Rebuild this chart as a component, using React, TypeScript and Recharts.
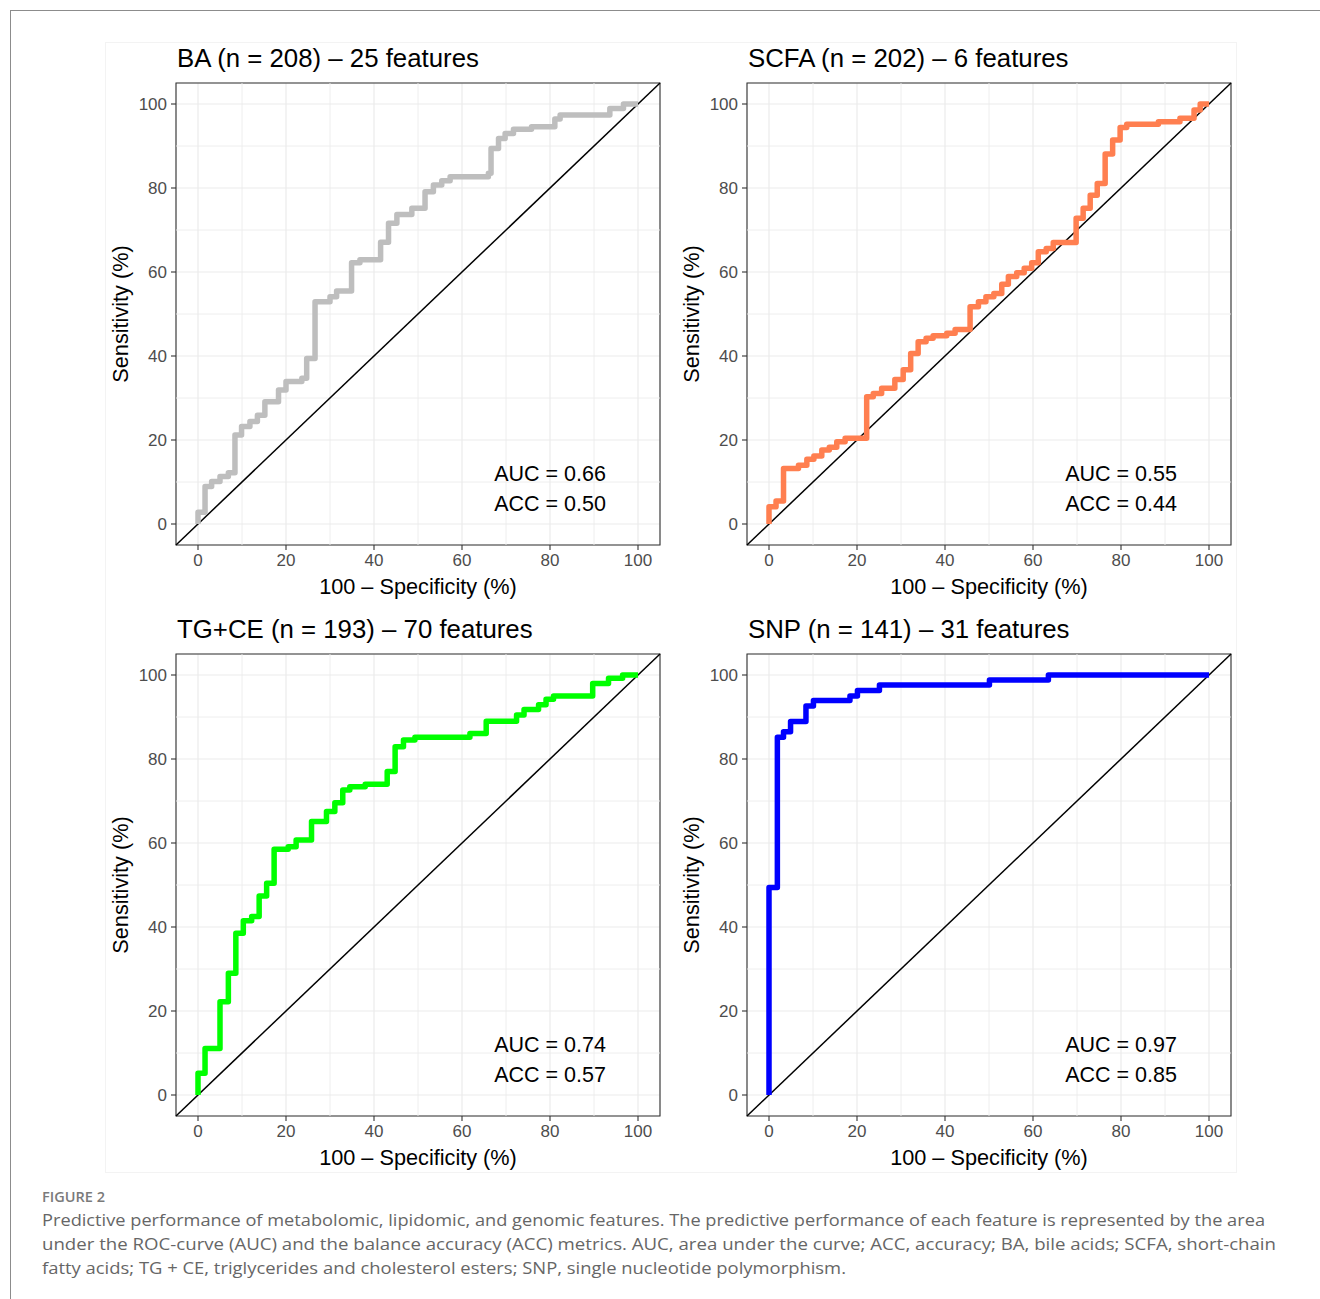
import React from 'react';
import {
  LineChart,
  Line,
  XAxis,
  YAxis,
  CartesianGrid,
  ReferenceLine,
  ReferenceArea,
  ReferenceDot,
} from 'recharts';

// ---------- data (x = 100 - specificity, y = sensitivity, in %) ----------
const majorTicks = [0, 20, 40, 60, 80, 100];
const minorTicks = [10, 30, 50, 70, 90];

const baFpr = [0, 0, 1.6, 3.1, 5, 6.9, 8.4, 9.9, 11.8, 13.5, 15.2, 18.3, 20, 23.6, 24.7, 26.6, 30, 31.5, 34.9, 36.8, 41.5, 43.3, 45.2, 48.6, 51.6, 53.5, 55.4, 57.3, 66, 66.6, 68.3, 69.8, 71.7, 75.8, 81.1, 82.3, 93.6, 96.7, 100];
const baTpr = [0, 2.8, 8.9, 10.1, 11.3, 12.2, 21.2, 23.2, 24.4, 25.9, 29.1, 31.9, 33.9, 34.7, 39.4, 52.9, 54.1, 55.5, 62.2, 62.9, 67.1, 71.6, 73.7, 75.2, 79.1, 80.7, 81.7, 82.7, 83.5, 89.4, 91.8, 93, 94, 94.6, 96.4, 97.4, 98.9, 100, 100];

const scfaFpr = [0, 0, 1.6, 3.3, 6.7, 8.6, 10.2, 12, 13.7, 15.4, 17.3, 22.2, 23.7, 25.6, 28.6, 30.5, 32.2, 33.9, 35.7, 37.3, 40.4, 42.3, 45.7, 47.6, 49.3, 51.1, 52.9, 54.4, 56.3, 58, 59.7, 61.2, 63, 64.6, 69.8, 71.4, 73, 74.6, 76.4, 78.1, 79.8, 81.3, 88.5, 93.4, 96.6, 98, 100];
const scfaTpr = [0, 4.1, 5.5, 13.2, 14, 15.4, 16.2, 17.6, 18.3, 19.6, 20.4, 30.3, 31.1, 32.3, 34.4, 36.7, 40.6, 43.4, 44.2, 44.8, 45.4, 46.3, 51.7, 52.9, 54.1, 54.9, 57.1, 58.9, 59.8, 60.9, 62.2, 64.8, 65.6, 67, 72.8, 75.2, 78.3, 81.1, 88.1, 91.4, 94.4, 95.2, 95.8, 96.6, 98.6, 100, 100];

const tgFpr = [0, 0, 1.6, 5, 6.9, 8.6, 10.3, 12.2, 13.9, 15.6, 17.3, 20.5, 22.3, 25.8, 29.2, 31.1, 32.9, 34.5, 38, 43, 44.8, 46.7, 49.3, 61.8, 65.5, 72.4, 74.1, 77.4, 79.1, 80.8, 89.7, 93.3, 96.5, 100];
const tgTpr = [0, 5.2, 11.1, 22.2, 29, 38.5, 41.5, 42.5, 47.4, 50.4, 58.5, 59.1, 60.7, 65.1, 67.5, 69.6, 72.6, 73.4, 74, 77, 82.9, 84.5, 85.2, 86.1, 89, 90.5, 91.8, 92.9, 94.2, 95, 98, 99.2, 100, 100];

const snpFpr = [0, 0, 1.9, 3.3, 4.9, 8.4, 10.1, 18.4, 20.1, 25.1, 50.1, 63.5, 100];
const snpTpr = [0, 49.4, 85.2, 86.5, 88.9, 92.6, 93.9, 95, 96.3, 97.6, 98.8, 100, 100];

const panelTitles = [
  'BA (n = 208) \u2013 25 features',
  'SCFA (n = 202) \u2013 6 features',
  'TG+CE (n = 193) \u2013 70 features',
  'SNP (n = 141) \u2013 31 features',
];
const aucLabels = ['AUC = 0.66', 'AUC = 0.55', 'AUC = 0.74', 'AUC = 0.97'];
const accLabels = ['ACC = 0.50', 'ACC = 0.44', 'ACC = 0.57', 'ACC = 0.85'];
const curveColors = ['#BEBEBE', '#FF7F50', '#00FF00', '#0000FF'];
const curveFpr = [baFpr, scfaFpr, tgFpr, snpFpr];
const curveTpr = [baTpr, scfaTpr, tgTpr, snpTpr];

const captionLines = [
  'Predictive performance of metabolomic, lipidomic, and genomic features. The predictive performance of each feature is represented by the area',
  'under the ROC-curve (AUC) and the balance accuracy (ACC) metrics. AUC, area under the curve; ACC, accuracy; BA, bile acids; SCFA, short-chain',
  'fatty acids; TG + CE, triglycerides and cholesterol esters; SNP, single nucleotide polymorphism.',
];

// ---------- layout ----------
const CHART_W = 566;
const CHART_H = 565;
const panelPos = [
  { left: 105, top: 42 },
  { left: 676, top: 42 },
  { left: 105, top: 613 },
  { left: 676, top: 613 },
];
const captionWidths = [1223, 1234, 804];
const FONT = "'Liberation Sans', Arial, Helvetica, sans-serif";

function RocPanel({ idx }: { idx: number }) {
  const fpr = curveFpr[idx];
  const tpr = curveTpr[idx];
  const data = fpr.map((x, i) => ({ x, y: tpr[i] }));
  return (
    <LineChart width={CHART_W} height={CHART_H} margin={{ top: 41, right: 11, left: 0, bottom: 0 }}>
      <CartesianGrid stroke="#EBEBEB" strokeWidth={1.2} />
      {minorTicks.map((v) => (
        <ReferenceLine key={'mx' + v} x={v} stroke="#ECECEC" strokeWidth={0.9} />
      ))}
      {minorTicks.map((v) => (
        <ReferenceLine key={'my' + v} y={v} stroke="#ECECEC" strokeWidth={0.9} />
      ))}
      <XAxis
        type="number"
        dataKey="x"
        domain={[-5, 105]}
        ticks={majorTicks}
        height={62}
        axisLine={false}
        tickLine={{ stroke: '#333333', strokeWidth: 1.1 }}
        tickSize={5}
        tickMargin={4}
        tick={{ fill: '#4D4D4D', fontSize: 17 }}
        label={{
          value: '100 \u2013 Specificity (%)',
          position: 'insideBottom',
          offset: 13,
          fill: '#000000',
          fontSize: 21.7,
        }}
      />
      <YAxis
        type="number"
        dataKey="y"
        domain={[-5, 105]}
        ticks={majorTicks}
        width={71}
        axisLine={false}
        tickLine={{ stroke: '#333333', strokeWidth: 1.1 }}
        tickSize={5}
        tickMargin={4}
        tick={{ fill: '#4D4D4D', fontSize: 17 }}
        label={{
          value: 'Sensitivity (%)',
          position: 'insideLeft',
          angle: -90,
          offset: 15,
          fill: '#000000',
          fontSize: 21.7,
          style: { textAnchor: 'middle' },
        }}
      />
      <ReferenceLine
        segment={[
          { x: -5, y: -5 },
          { x: 105, y: 105 },
        ]}
        stroke="#000000"
        strokeWidth={1.5}
      />
      <Line
        data={data}
        dataKey="y"
        type="stepAfter"
        stroke={curveColors[idx]}
        strokeWidth={5.5}
        strokeLinejoin="round"
        dot={false}
        activeDot={false}
        isAnimationActive={false}
      />
      <ReferenceArea x1={-5} x2={105} y1={-5} y2={105} fill="none" stroke="#333333" strokeWidth={1.1} />
      <ReferenceDot
        x={80}
        y={12}
        r={0}
        fill="none"
        stroke="none"
        label={{ value: aucLabels[idx], position: 'center', fill: '#000000', fontSize: 21.5 }}
      />
      <ReferenceDot
        x={80}
        y={5}
        r={0}
        fill="none"
        stroke="none"
        label={{ value: accLabels[idx], position: 'center', fill: '#000000', fontSize: 21.5 }}
      />
    </LineChart>
  );
}

export default function App() {
  return (
    <div
      style={{
        position: 'absolute',
        left: 0,
        top: 0,
        width: 1320,
        height: 1299,
        background: '#ffffff',
        fontFamily: FONT,
        overflow: 'hidden',
      }}
    >
      {/* outer frame (cropped figure border) */}
      <div
        style={{
          position: 'absolute',
          left: 10,
          top: 10,
          width: 1330,
          height: 1310,
          borderTop: '1.5px solid #8c8c8c',
          borderLeft: '1.5px solid #8c8c8c',
        }}
      />
      {/* figure image area */}
      <div
        style={{
          position: 'absolute',
          left: 105,
          top: 42,
          width: 1132,
          height: 1131,
          border: '1px solid #f3f3f3',
          boxSizing: 'border-box',
        }}
      />
      {panelPos.map((p, i) => (
        <div key={i} style={{ position: 'absolute', left: p.left, top: p.top, width: CHART_W, height: CHART_H }}>
          <RocPanel idx={i} />
        </div>
      ))}
      <svg
        width={1320}
        height={1299}
        style={{ position: 'absolute', left: 0, top: 0, pointerEvents: 'none' }}
      >
        {panelPos.map((p, i) => (
          <text key={'t' + i} x={p.left + 72} y={p.top + 25} fontSize={25.8} fill="#000000" fontFamily={FONT}>
            {panelTitles[i]}
          </text>
        ))}
        <text
          x={42}
          y={1202}
          fontSize={13.5}
          fontWeight={600}
          fill="#7a7a7a"
          fontFamily="'Open Sans', sans-serif"
          textLength={63}
          lengthAdjust="spacingAndGlyphs"
        >
          FIGURE 2
        </text>
        {captionLines.map((line, i) => (
          <text
            key={'c' + i}
            x={42}
            y={1225.5 + i * 24}
            fontSize={16.8}
            fill="#666666"
            fontFamily="'Open Sans', sans-serif"
            textLength={captionWidths[i]}
            lengthAdjust="spacingAndGlyphs"
          >
            {line}
          </text>
        ))}
      </svg>
    </div>
  );
}
